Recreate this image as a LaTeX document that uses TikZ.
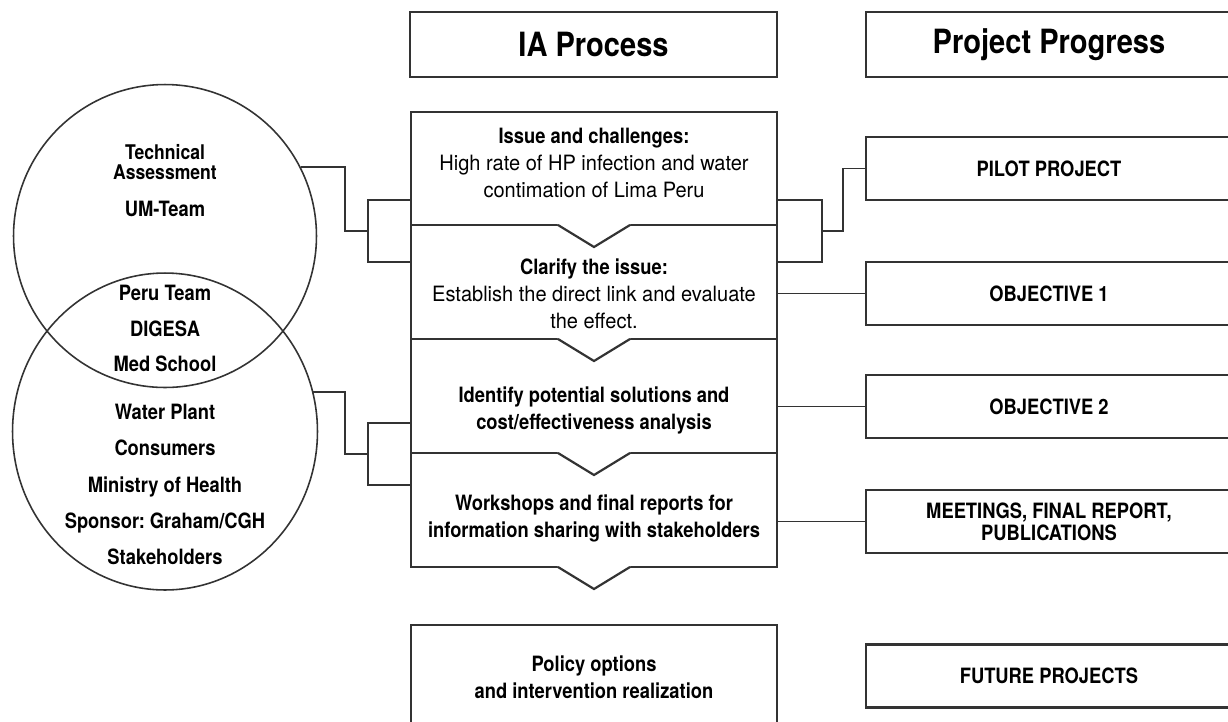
\documentclass[tikz,border=0pt]{standalone}
\usepackage{fontspec}
\setmainfont{TeX Gyre Heros}[UprightFeatures={FakeStretch=0.95},BoldFeatures={FakeStretch=0.87}]
\usetikzlibrary{shapes.geometric}
\frenchspacing
\colorlet{linegray}{black!80}
\tikzset{
  headbox/.style={draw=linegray, line width=1.25pt, minimum width=7.34cm, minimum height=1.3cm, font=\fontsize{19}{22}\selectfont\bfseries},
  iabox/.style={draw=linegray, line width=1.25pt, minimum width=7.32cm, minimum height=2.28cm},
  iatext/.style={align=center, font=\fontsize{12}{15.4}\selectfont},
  iabold/.style={align=center, font=\fontsize{12}{15.4}\selectfont\bfseries},
  progbox/.style={draw=linegray, line width=1.25pt, minimum width=7.32cm, minimum height=1.26cm, align=center, font=\fontsize{12}{12.5}\selectfont\bfseries},
  who/.style={anchor=base, font=\fontsize{12}{14}\selectfont\bfseries},
  ring/.style={draw=linegray, line width=0.9pt, inner sep=0pt},
  conn/.style={draw=linegray, line width=1.1pt},
  chevron/.style={draw=linegray, line width=1.25pt, line join=miter}
}
\begin{document}
\begin{tikzpicture}[x=0.02cm,y=-0.02cm]
 \useasboundingbox (0,0) rectangle (1228,721);
 \clip (0,0) rectangle (1228,721);
 % column headers
 \node[headbox] (iahead) at (593.5,44.5) {IA Process};
 \node[headbox, minimum width=7.32cm] (proghead) at (1049,44.5) {Project Progress};
 % stakeholder circles
 \node[ring, circle, minimum size=6.06cm] (upc) at (165,236) {};
 \node[ring, ellipse, minimum width=6.1cm, minimum height=6.34cm] (lowc) at (165,431.5) {};
 \node[align=center, inner sep=0pt, font=\fontsize{11.5}{11.2}\selectfont\bfseries] (tech) at (165,162) {Technical\\Assessment};
 \node[who] (umteam) at (165,216) {UM-Team};
 \node[who] (peru) at (165,300) {Peru Team};
 \node[who] (digesa) at (165,336) {DIGESA};
 \node[who] (med) at (165,371) {Med School};
 \node[who] (plant) at (165,419) {Water Plant};
 \node[who] (consum) at (165,455) {Consumers};
 \node[who] (minis) at (165,492) {Ministry of Health};
 \node[who] (sponsor) at (165,528) {Sponsor: Graham/CGH};
 \node[who] (stake) at (165,564) {Stakeholders};
 % IA process column
 \node[iabox, minimum height=2.26cm] (issue) at (594,168.5) {};
 \node[iabox] (clarify) at (594,282) {};
 \node[iabox] (solve) at (594,396) {};
 \node[iabox] (share) at (594,510) {};
 \node[iabox, minimum height=2.1cm, iabold] (policy) at (594,677.5) {Policy options\\and intervention realization};
 \foreach \y in {225,339,453,567} {
   \fill[white] (556,\y-1.8) -- (632,\y-1.8) -- (594,\y+21) -- cycle;
   \draw[chevron] (558,\y) -- (594,\y+22) -- (630,\y);
 }
 \node[iatext] (issuetxt) at (594,163) {\textbf{Issue and challenges:}\\High rate of HP infection and water\\contimation of Lima Peru};
 \node[iatext] (clarifytxt) at (594,294) {\textbf{Clarify the issue:}\\Establish the direct link and evaluate\\the effect.};
 \node[iabold] (solvetxt) at (594,410) {Identify potential solutions and\\cost/effectiveness analysis};
 \node[iabold] (sharetxt) at (594,518.5) {Workshops and final reports for\\information sharing with stakeholders};
 % project progress column
 \node[progbox] (pilot) at (1049,168.5) {PILOT PROJECT};
 \node[progbox] (obj1) at (1049,293.5) {OBJECTIVE 1};
 \node[progbox] (obj2) at (1049,406.5) {OBJECTIVE 2};
 \node[progbox] (meet) at (1049,521.5) {MEETINGS, FINAL REPORT,\\PUBLICATIONS};
 \node[progbox] (future) at (1049,676) {FUTURE PROJECTS};
 % connectors
 \coordinate (lfork1) at (368,231);
 \coordinate (lfork2) at (368,454);
 \coordinate (rfork1) at (822,231);
 \draw[conn] (upc.27) -| (345,231) -- (lfork1);
 \draw[conn] (issue.west |- 0,200) -| (lfork1) |- (clarify.west |- 0,262);
 \draw[conn] (lowc.15) -| (345,454) -- (lfork2);
 \draw[conn] (solve.west |- 0,423) -| (lfork2) |- (share.west |- 0,485);
 \draw[conn] (issue.east |- 0,200) -| (rfork1) |- (clarify.east |- 0,262);
 \draw[conn] (rfork1) -- (843,231) |- (pilot.west);
 \draw[conn] (obj1.west) -- (obj1.west -| clarify.east);
 \draw[conn] (obj2.west) -- (obj2.west -| solve.east);
 \draw[conn] (meet.west) -- (meet.west -| share.east);
\end{tikzpicture}
\end{document}
